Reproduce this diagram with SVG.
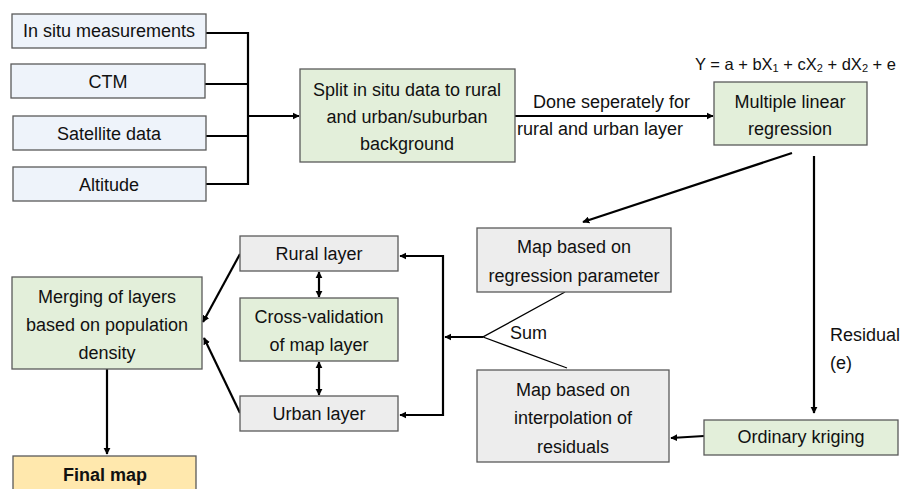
<svg xmlns="http://www.w3.org/2000/svg" width="900" height="489" viewBox="0 0 900 489">
<style>
.box{stroke:#5a5a5a;stroke-width:1.3}
.blue{fill:#eef3fa}
.green{fill:#e3efda}
.gray{fill:#ededed}
.yellow{fill:#ffe8ad}
text{font-family:"Liberation Sans",Arial,sans-serif;font-size:18px;fill:#111;text-anchor:middle;dominant-baseline:central}
.lbl{text-anchor:start}
.eq{font-size:16.5px;text-anchor:end}
.ln{fill:none;stroke:#000;stroke-width:2.2}
.thin{fill:none;stroke:#000;stroke-width:1.3}
.arr{marker-end:url(#ah)}
</style>
<defs>
<marker id="ah" viewBox="0 0 10 10" refX="9" refY="5" markerWidth="3.2" markerHeight="3.2" orient="auto-start-reverse" markerUnits="strokeWidth">
<path d="M0,0 L10,5 L0,10 z" fill="#000"/>
</marker>
</defs>
<g id="connectors">
<path class="ln" d="M206 33 H248 M205 84 H248 M206 136 H248 M206 184 H248 M248 32 V185"/>
<path class="ln arr" d="M248 116 H299"/>
<path class="ln arr" d="M515 116 H713"/>
<path class="ln arr" d="M792 153 L583 222"/>
<path class="ln arr" d="M814 156 V413"/>
<path class="ln arr" d="M704 436 L671 438"/>
<path class="thin" d="M565 292 L483 337 L567 368"/>
<path class="ln arr" d="M483 337 H445"/>
<path class="ln" d="M443 255 V416"/>
<path class="ln arr" d="M444 256 H400"/>
<path class="ln arr" d="M444 415 H400"/>
<path class="ln arr" d="M319 272 V297" style="marker-start:url(#ah)"/>
<path class="ln arr" d="M319 362 V395" style="marker-start:url(#ah)"/>
<path class="ln arr" d="M240 254 L203 322"/>
<path class="ln arr" d="M240 413 L204 338"/>
<path class="ln arr" d="M107 369 V454"/>
</g>
<g id="insitu"><rect class="box blue" x="12" y="14" width="194" height="34"/><text x="109" y="31">In situ measurements</text></g>
<g id="ctm"><rect class="box blue" x="11" y="64" width="194" height="34"/><text x="108" y="82">CTM</text></g>
<g id="satellite"><rect class="box blue" x="13" y="116" width="193" height="34"/><text x="109" y="134">Satellite data</text></g>
<g id="altitude"><rect class="box blue" x="13" y="167" width="193" height="34"/><text x="109" y="185">Altitude</text></g>
<g id="split"><rect class="box green" x="300" y="69" width="215" height="93"/>
<text x="407" y="90">Split in situ data to rural</text>
<text x="407" y="117">and urban/suburban</text>
<text x="407" y="144">background</text></g>
<g id="done-label"><text class="lbl" x="533" y="102">Done seperately for</text><text class="lbl" x="517" y="129">rural and urban layer</text></g>
<g id="equation"><text class="eq" x="896" y="64">Y = a + bX<tspan font-size="11" dy="4">1</tspan><tspan dy="-4"> + cX</tspan><tspan font-size="11" dy="4">2</tspan><tspan dy="-4"> + dX</tspan><tspan font-size="11" dy="4">2</tspan><tspan dy="-4"> + e</tspan></text></g>
<g id="mlr"><rect class="box green" x="714" y="82" width="153" height="63"/>
<text x="790" y="102">Multiple linear</text><text x="790" y="129">regression</text></g>
<g id="mapreg"><rect class="box gray" x="477" y="228" width="194" height="64"/>
<text x="574" y="247">Map based on</text><text x="574" y="276">regression parameter</text></g>
<g id="sum"><text class="lbl" x="510" y="333">Sum</text></g>
<g id="mapinterp"><rect class="box gray" x="477" y="370" width="192" height="92"/>
<text x="573" y="390">Map based on</text><text x="573" y="418">interpolation of</text><text x="573" y="447">residuals</text></g>
<g id="residual"><text class="lbl" x="830" y="335">Residual</text><text class="lbl" x="830" y="363">(e)</text></g>
<g id="kriging"><rect class="box green" x="704" y="420" width="194" height="35"/><text x="801" y="437">Ordinary kriging</text></g>
<g id="rural"><rect class="box gray" x="240" y="236" width="158" height="35"/><text x="319" y="254">Rural layer</text></g>
<g id="crossval"><rect class="box green" x="240" y="298" width="158" height="63"/><text x="319" y="317">Cross-validation</text><text x="319" y="345">of map layer</text></g>
<g id="urban"><rect class="box gray" x="240" y="396" width="158" height="35"/><text x="319" y="414">Urban layer</text></g>
<g id="merging"><rect class="box green" x="12" y="277" width="190" height="92"/>
<text x="107" y="297">Merging of layers</text><text x="107" y="325">based on population</text><text x="107" y="353">density</text></g>
<g id="final"><rect class="box yellow" x="13" y="456" width="183" height="40"/><text x="105" y="475" font-weight="bold">Final map</text></g>
</svg>
